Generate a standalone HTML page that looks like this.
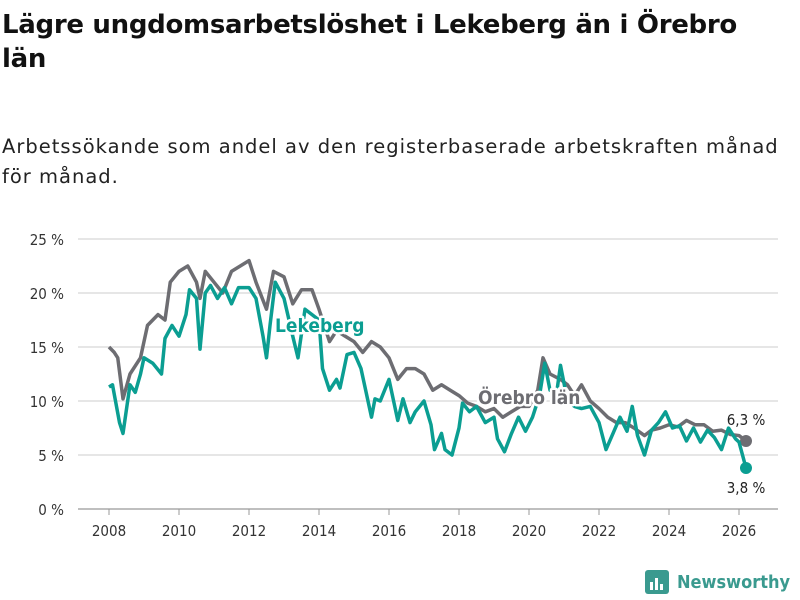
<!DOCTYPE html>
<html><head><meta charset="utf-8"><style>
body{margin:0;width:800px;height:600px;background:#fff;font-family:"Liberation Sans","DejaVu Sans",sans-serif;overflow:hidden;position:relative}
h1{position:absolute;left:2px;top:8px;margin:0;font-size:26px;line-height:34px;font-weight:bold;color:#111;width:760px;font-family:"DejaVu Sans",sans-serif;letter-spacing:-0.3px}
.sub{position:absolute;left:2px;top:132px;font-size:19.5px;line-height:30px;color:#222;width:798px;white-space:nowrap;letter-spacing:1px;font-family:"DejaVu Sans",sans-serif}
svg{position:absolute;left:0;top:0}
</style></head><body>
<h1>Lägre ungdomsarbetslöshet i Lekeberg än i Örebro län</h1>
<div class="sub">Arbetssökande som andel av den registerbaserade arbetskraften månad<br>för månad.</div>
<svg id="c" width="800" height="600" font-family="DejaVu Sans Condensed, DejaVu Sans, sans-serif"></svg>
<script>
const yTicks=[0,5,10,15,20,25];
const xTicks=[2008,2010,2012,2014,2016,2018,2020,2022,2024,2026];
const orebroX=[2008,2008.15,2008.25,2008.4,2008.6,2008.9,2009.1,2009.4,2009.6,2009.75,2010,2010.25,2010.5,2010.6,2010.75,2011,2011.25,2011.5,2011.75,2012,2012.2,2012.5,2012.7,2013,2013.25,2013.5,2013.8,2014,2014.3,2014.5,2014.75,2015,2015.25,2015.5,2015.75,2016,2016.25,2016.5,2016.75,2017,2017.25,2017.5,2017.75,2018,2018.25,2018.5,2018.75,2019,2019.25,2019.5,2019.75,2020,2020.25,2020.4,2020.6,2020.9,2021.1,2021.3,2021.5,2021.75,2022,2022.25,2022.5,2022.75,2023,2023.3,2023.5,2023.75,2024,2024.25,2024.5,2024.75,2025,2025.25,2025.5,2025.75,2026,2026.2];
const orebroY=[15,14.5,14,10.2,12.5,14,17,18,17.5,21,22,22.5,21,19.5,22,21,20,22,22.5,23,21,18.5,22,21.5,19,20.3,20.3,18.5,15.5,16.5,16,15.5,14.5,15.5,15,14,12,13,13,12.5,11,11.5,11,10.5,9.8,9.5,9,9.3,8.5,9,9.5,9.5,11,14,12.5,12,11.5,10.5,11.5,10,9.3,8.5,8,8,7.5,6.8,7.3,7.5,7.8,7.6,8.2,7.8,7.8,7.2,7.3,6.9,6.8,6.3];
const lekX=[2008,2008.1,2008.3,2008.4,2008.6,2008.75,2008.9,2009,2009.25,2009.5,2009.6,2009.8,2010,2010.2,2010.3,2010.5,2010.6,2010.75,2010.9,2011.1,2011.3,2011.5,2011.7,2012,2012.2,2012.4,2012.5,2012.6,2012.75,2013,2013.25,2013.4,2013.6,2013.8,2014,2014.1,2014.3,2014.5,2014.6,2014.8,2015,2015.2,2015.5,2015.6,2015.75,2016,2016.25,2016.4,2016.6,2016.75,2017,2017.2,2017.3,2017.5,2017.6,2017.8,2018,2018.1,2018.3,2018.5,2018.75,2019,2019.1,2019.3,2019.5,2019.7,2019.9,2020.1,2020.3,2020.45,2020.6,2020.8,2020.9,2021.1,2021.3,2021.5,2021.75,2022,2022.2,2022.4,2022.6,2022.8,2022.95,2023.1,2023.3,2023.5,2023.7,2023.9,2024.1,2024.3,2024.5,2024.7,2024.9,2025.1,2025.3,2025.5,2025.7,2025.9,2026,2026.2];
const lekY=[11.3,11.5,8,7,11.5,10.8,12.5,14,13.5,12.5,15.8,17,16,18,20.3,19.5,14.8,20,20.7,19.5,20.5,19,20.5,20.5,19.5,16,14,17,21,19.5,16,14,18.5,18,17.5,13,11,12,11.2,14.3,14.5,13,8.5,10.2,10,12,8.2,10.2,8,9,10,7.8,5.5,7,5.5,5,7.5,9.8,9,9.5,8,8.5,6.5,5.3,7,8.5,7.2,8.5,10.5,13.5,11,11,13.3,10,9.5,9.3,9.5,8,5.5,7,8.5,7.2,9.5,6.8,5,7.3,8,9,7.5,7.7,6.3,7.5,6.2,7.3,6.6,5.5,7.5,6.5,6.2,3.8];
const NS='http://www.w3.org/2000/svg';
const svg=document.getElementById('c');
const L=78,R=778;
const xs=v=>109+(v-2008)*35;
const ys=v=>509-v*10.8;
function mk(t,a){const e=document.createElementNS(NS,t);for(const k in a)e.setAttribute(k,a[k]);svg.appendChild(e);return e;}
yTicks.forEach(t=>{
  const g=mk('line',{x1:L,x2:R,y1:ys(t),y2:ys(t),stroke:t===0?'#999':'#ddd','stroke-width':t===0?1.2:1.5});
  
  
  const tx=mk('text',{x:64,y:ys(t)+6,'text-anchor':'end','font-size':15,fill:'#333'});
  tx.textContent=t+' %';
  
  
});
xTicks.forEach(t=>{
  const l=mk('line',{x1:xs(t),x2:xs(t),y1:509,y2:515,stroke:'#999'});
  
  
  const tx=mk('text',{x:xs(t),y:536,'text-anchor':'middle','font-size':15,fill:'#333'});
  tx.textContent=t;
  
  
});
function line(X,Y,c,name){
  const p=mk('polyline',{points:X.map((x,i)=>xs(x)+','+ys(Y[i])).join(' '),fill:'none',stroke:c,'stroke-width':3.5,'stroke-linejoin':'round'});
  
  
  const d=mk('circle',{cx:xs(X[X.length-1]),cy:ys(Y[Y.length-1]),r:6,fill:c});
  
  
}
line(orebroX,orebroY,'#6d6d72','orebro-line');
line(lekX,lekY,'#0b9e92','lekeberg-line');
function lab(x,y,t,c,name,bold,anchor){
  const tx=mk('text',{x:x,y:y,'font-size':bold?19:15,'font-weight':bold?'bold':'normal',fill:c,'text-anchor':anchor||'start',stroke:'#fff','stroke-width':bold?5:4,'paint-order':'stroke','stroke-linejoin':'round'});
  tx.textContent=t;
  
  
}
lab(275,332,'Lekeberg','#0b9e92','lekeberg-label',true);
lab(478,404,'Örebro län','#6d6d72','orebro-label',true);
lab(746,425,'6,3 %','#222','orebro-end-value',false,'middle');
lab(746,493,'3,8 %','#222','lekeberg-end-value',false,'middle');
</script>
<div style="position:absolute;left:645px;top:570px;display:flex;align-items:center;font-family:'DejaVu Sans Condensed','DejaVu Sans',sans-serif;font-weight:bold;font-size:18px;color:#3a9a8f">
<svg width="24" height="24" style="position:static;margin-right:8px"><rect width="24" height="24" rx="3" fill="#3a9a8f"/><rect x="5" y="12" width="3" height="8" fill="#fff"/><rect x="10" y="8" width="3" height="12" fill="#fff"/><rect x="15" y="14" width="3" height="6" fill="#fff"/></svg>Newsworthy</div>
</body></html>
